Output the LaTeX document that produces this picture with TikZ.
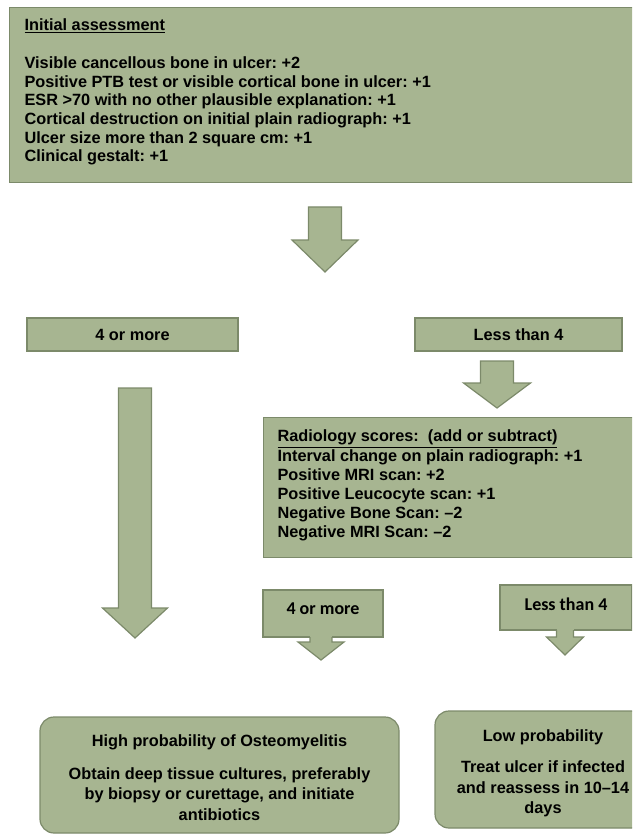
\documentclass[tikz,border=0pt]{standalone}
\usepackage{fontspec}
\setmainfont{Liberation Sans}
\newfontfamily\carlito{Carlito}
\usetikzlibrary{positioning}
\definecolor{sage}{RGB}{167,181,145}
\definecolor{sageedge}{RGB}{124,138,106}
\frenchspacing

% block arrow: x, top, head start, tip, half shaft, half head
\newcommand{\blockarrow}[6]{%
  \draw[blockshape] (#1-#5,#2) -- (#1+#5,#2) -- (#1+#5,#3) -- (#1+#6,#3)
    -- (#1,#4) -- (#1-#6,#3) -- (#1-#5,#3) -- cycle;}
% same, open at the top (joined to the box above)
\newcommand{\calloutarrow}[6]{%
  \fill[sage] (#1-#5,#2-2) rectangle (#1+#5,#3);
  \fill[sage] (#1-#6,#3) -- (#1,#4) -- (#1+#6,#3) -- cycle;
  \draw[blockedge] (#1-#5,#2) -- (#1-#5,#3) -- (#1-#6,#3) -- (#1,#4)
    -- (#1+#6,#3) -- (#1+#5,#3) -- (#1+#5,#2);}

\begin{document}
\begin{tikzpicture}[
    x=1pt, y=-1pt,
    infobox/.style={
        rectangle, draw=sageedge, fill=sage, line width=1.2pt,
        anchor=north west, inner ysep=0pt,
        font=\fontsize{16.3}{18.7}\selectfont\bfseries
    },
    choicebox/.style={
        rectangle, draw=sageedge, fill=sage, line width=1.2pt,
        text centered, inner sep=0pt,
        font=\fontsize{16.3}{18}\selectfont\bfseries
    },
    resultbox/.style={
        rectangle, draw=sageedge, fill=sage, line width=1.2pt,
        rounded corners=14pt, inner sep=0pt,
        font=\fontsize{16.3}{20.5}\selectfont\bfseries
    },
    blockshape/.style={draw=sageedge, fill=sage, line width=1.2pt, line join=miter},
    blockedge/.style={draw=sageedge, line width=1.2pt, line join=miter}
]
    \useasboundingbox (0,0) rectangle (632,834);
    \clip (0,0) rectangle (632,834);

    \node[infobox, inner xsep=15pt] (assess) at (9,7) {%
        \begin{minipage}[c][175pt][t]{620pt}\raggedright
        \vspace{11.5pt}
        \underline{Initial assessment}\\[18.7pt]
        Visible cancellous bone in ulcer: +2\\
        Positive PTB test or visible cortical bone in ulcer: +1\\
        ESR >70 with no other plausible explanation: +1\\
        Cortical destruction on initial plain radiograph: +1\\
        Ulcer size more than 2 square cm: +1\\
        Clinical gestalt: +1
        \end{minipage}};

    \blockarrow{325}{207}{240}{272}{16.5}{33}

    \node[choicebox, minimum width=211pt, minimum height=33pt] (highA) at (132.5,334.5) {4 or more};
    \node[choicebox, minimum width=207pt, minimum height=33pt] (lowA) at (518.5,334.5) {Less than 4};

    \blockarrow{135}{388}{608}{638}{16.5}{32.5}
    \blockarrow{497}{361}{383}{408}{16.5}{33.5}

    \node[infobox, inner xsep=14pt, font=\fontsize{16.3}{19.1}\selectfont\bfseries] (radio) at (263,417) {%
        \begin{minipage}[c][140pt][t]{372pt}\raggedright
        \vspace{12.5pt}
        \underline{Radiology scores:\ \ (add or subtract)}\\
        Interval change on plain radiograph: +1\\
        Positive MRI scan: +2\\
        Positive Leucocyte scan: +1\\
        Negative Bone Scan: –2\\
        Negative MRI Scan: –2
        \end{minipage}};

    \node[choicebox, font=\carlito\fontsize{18}{20}\selectfont\bfseries, text depth=9pt,
          minimum width=120pt, minimum height=47pt] (highB) at (323,613.5) {4 or more};
    \node[choicebox, font=\carlito\fontsize{18}{20}\selectfont\bfseries, text depth=7pt,
          minimum width=132pt, minimum height=45pt] (lowB) at (566,607.5) {Less than 4};

    \calloutarrow{321}{637}{642}{660}{11}{23}
    \calloutarrow{565}{630}{637}{655}{8.5}{18.5}

    \node[resultbox] (resHigh) at (219.5,775) {%
        \begin{minipage}[c][116pt][c]{359pt}\centering
        \vspace{5pt}
        High probability of Osteomyelitis\\[12pt]
        Obtain deep tissue cultures, preferably\\
        by biopsy or curettage, and initiate\\
        antibiotics
        \end{minipage}};
    \node[resultbox] (resLow) at (543,769.5) {%
        \begin{minipage}[c][117pt][c]{216pt}\centering
        \vspace{8pt}
        Low probability\\[11pt]
        Treat ulcer if infected\\
        and reassess in 10–14\\
        days
        \end{minipage}};
\end{tikzpicture}
\end{document}
